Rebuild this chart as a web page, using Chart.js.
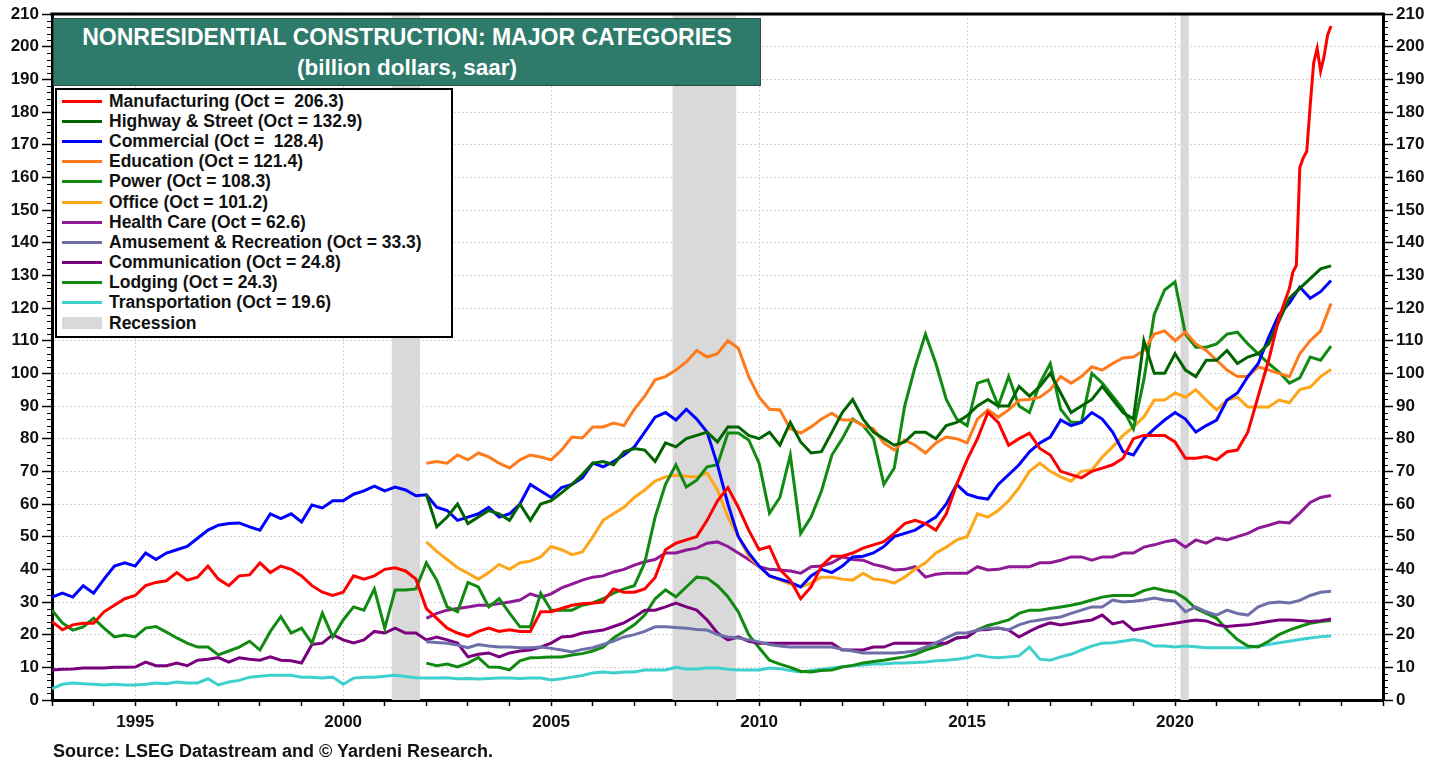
<!DOCTYPE html>
<html><head><meta charset="utf-8">
<script src="https://cdn.jsdelivr.net/npm/chart.js@4.4.1/dist/chart.umd.min.js"></script>
<style>
html,body{margin:0;padding:0;background:#fff;}
#wrap{position:relative;width:1443px;height:763px;overflow:hidden;font-family:"Liberation Sans",Arial,sans-serif;}
#c{position:absolute;left:0;top:0;}
#title{position:absolute;left:53px;top:18px;width:708px;height:68px;background:#2e7a6b;color:#fff;font-weight:bold;text-align:center;box-sizing:border-box;border:1px solid #2a4a44;}
#title .t1{font-size:23px;line-height:23px;margin-top:7px;white-space:nowrap;}
#title .t2{font-size:22.5px;line-height:23px;margin-top:7px;}
#legend{position:absolute;left:55px;top:88px;width:398px;height:250px;background:#fff;border:2px solid #000;box-sizing:border-box;padding-top:1px;}
.row{height:20.2px;display:flex;align-items:center;font-size:17.5px;font-weight:bold;color:#111;white-space:pre;}
.sw{width:40px;height:3px;margin-left:5px;margin-right:7px;flex:none;}
.sw.rec{height:12px;background:#d9d9d9;}
#source{position:absolute;left:53px;top:742px;font-size:18px;line-height:18px;font-weight:bold;color:#111;white-space:nowrap;}
</style></head>
<body><div id="wrap">
<canvas id="c" width="1443" height="763"></canvas>
<div id="title"><div class="t1">NONRESIDENTIAL CONSTRUCTION: MAJOR CATEGORIES</div><div class="t2">(billion dollars, saar)</div></div>
<div id="legend"></div>
<div id="source">Source: LSEG Datastream and © Yardeni Research.</div>
</div>
<script>
// ---------- DATA (quarterly: Jan, Apr, Jul, Oct) ----------
const START_EARLY = 1993;   // series available from Jan 1993
const START_LATE = 2002;    // series available from Jan 2002
const xLabelYears = [1995, 2000, 2005, 2010, 2015, 2020];
const recessions = [[2001.17, 2001.85], [2007.92, 2009.45], [2020.13, 2020.33]];

const manufacturing = [
 24,21.5,23,23.5, 23.5,27,29,31, 32,35,36,36.5, 39,36.7,37.6,41, 37,35,38,38.3,
 42,39,41,40, 38,35,33,32, 33,38,37,38, 40,40.5,39.5,37, 28,25,22,20.5,
 19.5,21,22,21, 21.5,21,21,27, 27,28,29,29.5, 29.7,30,34,33, 33,34,37.5,46,
 48,49,50,55, 61,65,59,52, 46,47,40,36.7, 31,34.6,41,44, 44,45,46.5,47.5,
 48.5,51,54,55, 54,52,57,66, 73.5,80,88,85, 78,80,81.7,77, 75,70,69,68,
 70,71,72,74, 80,81,81,81, 79,74,74,74.5, 73.5,76,76.5,82, 93,104,117,126
];
const mfgTailDates = [2022.833,2022.917,2023.0,2023.083,2023.167,2023.25,2023.333,2023.417,2023.5,2023.583,2023.667,2023.75];
const mfgTail = [131,133,163,166,168,182,195,199.5,192.5,197,203.5,206.3];

const highway = [
 63,53,56,60, 54,56,58,57, 55,60,55,60, 61,63.4,66,69, 72.5,73,72,76,
 77,76.5,73,78.7, 77.5,80,81,82, 79,83.6,83.6,81, 80,82,78,85, 79,75.6,76,82,
 88,92,86,82, 80,78,79,82, 82,80,84,85, 87,90,92,90, 90,96,93,96,
 100,94,88,90, 92,96,92,88, 86,110,100,100, 106,101,99,104, 104,107,103,105,
 106,109,116,123, 126,129,132,132.9
];
const commercial = [
 31.5,32.7,31.5,35, 32.7,37,41,42, 41,45,43,45, 46,47,49.5,52, 53.5,54,54.2,53,
 52,57,55.5,57, 54.5,59.7,58.8,61, 61,63,64,65.5, 64,65.2,64.3,62.5, 62.8,59,58,55,
 56,57,59,56, 57,60,66,64, 62,65,66,68, 72.5,71.4,73,75, 77.5,82,86.6,88,
 85.7,89,86,82, 72,60,50,45, 41,38,37,36, 34.6,38,40,39, 41,43.8,44,45,
 47,50,51,52, 54,56,60,66, 63,62,61.5,66, 69,72,76,78.7, 80.5,85.7,84,85,
 88,86,82,76, 75,80,83,85.7, 88,86,82,84, 85.7,91.8,94,99, 103,111,118,121.5,
 126.4,123,125,128.4
];
const education = [
 72.5,73,72.5,75, 73.5,75.6,74.4,72.5, 71,73.5,75,74.4, 73.5,76.5,80.5,80.2, 83.6,83.6,84.8,84,
 89,93,98,99, 101,103.5,107,105, 106,110,107.7,99, 92.7,89,88.8,83, 81.7,83.6,86,87.8,
 85.7,85.7,84,83, 78.7,76.5,79.6,78, 75.6,78.7,80.5,80, 78.7,86,88.8,86.6, 88.8,91.8,92,92.7,
 95,99,97,99, 102,101,103,104.7, 105,107,112,113, 110,112.6,109,107, 104,101,99,99,
 102,101,100,99, 106,110,113,121.4
];
const power = [
 27.5,23.6,21.4,22.4, 25,22,19.3,19.9, 19.3,22,22.5,20.8, 19,17.4,16.2,16.2, 13.8,15,16.2,18,
 15.3,21,25.5,20.5, 22,17.4,26.6,19.3, 24.5,28.5,27.5,34, 22,33.7,33.7,34, 42,36.7,28.5,27,
 36,34.6,28.5,31, 26.6,22.4,22.4,32.7, 27.5,27.5,27.5,29, 29.7,31,32.7,34, 35,42,56,66,
 72,65.2,67.3,71.4, 72,81.7,81.7,79.6, 72.5,57.2,62,75, 51,56,64,75, 80,86,84,80,
 66,71,90,102, 112,103,92,86, 84,97,98,90, 99,90,88,97, 103,89,85,85,
 100,97,93,89, 83,98,118,125.5, 128,112,108,108, 109,112,112.6,109, 106,103,100.4,97,
 98.6,105,104,108.3
];
const office = [
 48.4,45.5,43,40.5, 38.8,37,39,41.5, 40,42,42.5,43.8, 47,46,44.5,45.3, 49.9,55,57,59,
 62,64.3,67,68.3, 68.8,68.5,68.3,69.5, 64.3,56,50,44, 40.8,38,36.7,35.5, 34.6,35.8,37.6,37.6,
 37,36.7,38.8,37, 36.7,35.8,37.6,40, 42,45,46.8,49, 50,57,56,58, 61,65,70,72.5,
 70,68.3,67,70, 70.4,74.4,77.5,81, 83.6,86.6,91.8,91.8, 94,92.7,95,91.8, 88.8,91.8,92.7,89.7,
 89.7,89.7,91.8,91, 95,95.8,99,101.2
];
const healthCare = [
 25,26.5,27.5,28, 28.5,29,29,29.5, 30,30.6,32.5,31.5, 32.5,34.3,35.5,36.7, 37.6,38,39.2,40,
 41.3,42.3,43,45, 45,45.9,46.5,48, 48.4,47,45,43, 40.8,40,39.8,39.5, 38.8,40.8,41,42,
 43.8,43,42.8,41.5, 40.8,39.8,40,40.8, 37.6,38.5,38.8,38.8, 38.8,40.8,39.8,40, 40.8,40.8,40.8,42,
 42,42.8,43.8,43.8, 42.8,43.8,43.8,45, 45,46.8,47.5,48.4, 49,46.8,49,48, 49.6,49,50,51,
 52.6,53.5,54.5,54.2, 57.2,60.5,62,62.6
];
const amusement = [
 17.8,17.6,17.4,16.8, 16,17,16.5,16.2, 16.2,16,16,16.2, 15.8,15.3,14.7,15.5, 16,17,18,19.3,
 20,21,22.4,22.4, 22.2,22,21.6,21.4, 20,19.3,19,18.4, 17.8,17,16.5,16.2, 16.2,16.2,16.2,16.2,
 15.5,15,14.4,14.4, 14.4,14.4,14.6,15, 16.2,17.5,19,20.5, 20.5,21.4,22,22, 21.5,23,24,24.5,
 25,25.4,26.5,27.5, 28.5,28.5,30.6,30, 30.2,30.6,31.2,30.6, 30.3,27,28.5,27, 26,27.5,26.5,26,
 28.5,29.7,30,29.7, 30.5,32,33,33.3
];
const communication = [
 9.2,9.4,9.5,9.8, 9.8,9.8,10,10, 10.1,11.6,10.5,10.5, 11.3,10.5,12.2,12.5, 13,11.6,12.9,12.5,
 12.2,13.2,12.2,12, 11.3,17,17.4,20, 18.4,17.5,18.4,21, 20.5,22,20.5,20.5, 18.4,19.3,18.4,17.4,
 13.2,14,14.4,13.2, 14.4,15,15.3,16.2, 17.4,19.3,19.5,20.5, 21,21.4,22.5,23.6, 25.4,27.5,27.5,28.5,
 29.7,28.5,27.5,24.5, 20.5,18.4,19.3,18, 17.4,17.4,17.4,17.4, 17.4,17.4,17.4,17.4, 15.3,15.3,15.3,16.2,
 16.2,17.4,17.4,17.4, 17.4,17.4,17.4,19, 19.3,21.4,21.6,22, 21.4,19.3,21,22.5, 23.6,23,23.5,24,
 24.5,26,23.3,24, 21.4,22,22.5,23, 23.5,24,24.5,24.2, 23,22.5,22.8,23, 23.5,24,24.5,24.5,
 24.3,24,24.3,24.8
];
const lodging = [
 11.3,10.5,11,10.1, 11.3,13,10.1,10, 9.2,12,12.9,13, 13.2,13.2,13.8,14.2, 15,16.2,19,21,
 23,26,31,33.7, 31.6,34.6,37.6,37.3, 35,31.6,27,20, 16,12.2,11,10, 8.8,8.6,9,9.2,
 10.1,10.6,11.3,11.8, 12.2,12.7,13.2,14, 15.3,16.3,17.4,19, 19.3,21.5,22.8,23.6, 24.5,26.5,27.5,27.5,
 28,28.5,29,29.7, 30.6,31.5,32,32, 32,33.5,34.3,33.5, 33,31,28,26.5, 25,21.5,18.5,16.5,
 16.2,18,20,21.4, 22.5,23.5,24,24.3
];
const transportation = [
 3.5,4.8,5.2,5, 4.8,4.6,4.8,4.6, 4.6,4.8,5.2,5, 5.5,5.2,5.2,6.5, 4.6,5.5,6,7,
 7.3,7.6,7.6,7.6, 7,7,6.7,7, 4.8,6.7,7,7, 7.3,7.6,7.2,6.8, 6.7,6.7,6.8,6.5,
 6.6,6.4,6.6,6.7, 6.7,6.6,6.7,6.7, 6.1,6.5,7,7.5, 8.3,8.6,8.3,8.6, 8.6,9.2,9.2,9.2,
 10,9.5,9.5,9.8, 9.8,9.4,9.2,9.2, 9.2,9.8,9.6,9, 8.6,9,9.4,9.8, 10.2,10.5,10.7,11,
 11,11.3,11.3,11.5, 11.6,12,12.2,12.5, 12.9,13.8,13.2,12.9, 13.2,13.5,16.2,12.5, 12.2,13.2,14,15.3,
 16.5,17.4,17.5,18, 18.5,18,16.5,16.5, 16.2,16.5,16.3,16, 16,16,16,16, 16.5,17,17.5,18,
 18.5,19,19.4,19.6
];

const seriesInfo = [
 {label:'Manufacturing (Oct =  206.3)', color:'#ff0000', vals:manufacturing, start:START_EARLY},
 {label:'Highway & Street (Oct = 132.9)', color:'#006400', vals:highway, start:START_LATE},
 {label:'Commercial (Oct =  128.4)', color:'#0000ff', vals:commercial, start:START_EARLY},
 {label:'Education (Oct = 121.4)', color:'#ff7a1a', vals:education, start:START_LATE},
 {label:'Power (Oct = 108.3)', color:'#108a10', vals:power, start:START_EARLY},
 {label:'Office (Oct = 101.2)', color:'#ffa51a', vals:office, start:START_LATE},
 {label:'Health Care (Oct = 62.6)', color:'#8e1a96', vals:healthCare, start:START_LATE},
 {label:'Amusement & Recreation (Oct = 33.3)', color:'#6e6ea8', vals:amusement, start:START_LATE},
 {label:'Communication (Oct = 24.8)', color:'#7a007e', vals:communication, start:START_EARLY},
 {label:'Lodging (Oct = 24.3)', color:'#128a12', vals:lodging, start:START_LATE},
 {label:'Transportation (Oct = 19.6)', color:'#3ecfcf', vals:transportation, start:START_EARLY}
];

function toPoints(vals, start){ return vals.map((v,i)=>({x:start + i/4, y:v})); }

const datasets = seriesInfo.map((s, idx) => {
  let pts = toPoints(s.vals, s.start);
  if (idx === 0) pts = pts.concat(mfgTailDates.map((d,i)=>({x:d, y:mfgTail[i]})));
  return {label:s.label, data:pts, borderColor:s.color, backgroundColor:s.color,
          borderWidth:3, pointRadius:0, tension:0, fill:false, yAxisID:'y'};
});

// legend (HTML)
const lg = document.getElementById('legend');
seriesInfo.forEach(s => {
  const r = document.createElement('div'); r.className='row';
  r.innerHTML = '<span class="sw" style="background:'+s.color+'"></span><span></span>';
  r.lastChild.textContent = s.label; lg.appendChild(r);
});
{ const r = document.createElement('div'); r.className='row';
  r.innerHTML = '<span class="sw rec"></span><span>Recession</span>'; lg.appendChild(r); }

const FONT = {family:'"Liberation Sans", Arial, sans-serif', size:17, weight:'bold'};

const decor = {
  id:'decor',
  beforeDatasetsDraw(chart){
    const {ctx, chartArea:a, scales:{x}} = chart;
    ctx.save(); ctx.fillStyle = '#d9d9d9';
    recessions.forEach(([s,e]) => {
      const x1 = x.getPixelForValue(s), x2 = x.getPixelForValue(e);
      ctx.fillRect(x1, a.top, x2 - x1, a.bottom - a.top);
    });
    ctx.restore();
  },
  afterDraw(chart){
    const {ctx, chartArea:a, scales:{y}} = chart;
    ctx.save();
    ctx.strokeStyle = '#000'; ctx.lineWidth = 3;
    ctx.beginPath(); ctx.moveTo(a.left - 1.5, a.top); ctx.lineTo(a.right + 1.5, a.top); ctx.stroke();
    ctx.lineWidth = 1.2;
    for (let v = 0; v <= 210; v += 2) {
      if (v % 10 === 0) continue;
      const py = Math.round(y.getPixelForValue(v)) + 0.5;
      ctx.beginPath(); ctx.moveTo(a.left - 5, py); ctx.lineTo(a.left, py);
      ctx.moveTo(a.right, py); ctx.lineTo(a.right + 5, py); ctx.stroke();
    }
    ctx.restore();
  }
};

new Chart(document.getElementById('c'), {
  type:'line',
  data:{datasets},
  plugins:[decor],
  options:{
    responsive:false, animation:false, devicePixelRatio:1,
    layout:{padding:{top:14, left:0, right:0, bottom:0}},
    plugins:{legend:{display:false}, tooltip:{enabled:false}},
    scales:{
      x:{type:'linear', min:1993, max:2025,
        afterFit(s){ s.height = 63; },
        ticks:{stepSize:1, autoSkip:false, maxRotation:0, minRotation:0, font:FONT, color:'#111', padding:6,
          callback:v => xLabelYears.includes(v) ? String(v) : ''},
        grid:{color:c => (c.tick && xLabelYears.includes(c.tick.value)) ? '#cfcfcf' : 'rgba(0,0,0,0)',
          tickColor:'#000', tickLength:6, lineWidth:1, tickWidth:1.5},
        border:{display:true, color:'#000', width:3, dash:[2,2]}
      },
      y:{position:'left', min:0, max:210,
        afterFit(s){ s.width = 52; },
        ticks:{stepSize:10, font:FONT, color:'#111', padding:3},
        grid:{color:'#d4d4d4', tickColor:'#000', tickLength:10, lineWidth:1, tickWidth:1.5},
        border:{display:true, color:'#000', width:3, dash:[2,2]}
      },
      y2:{position:'right', min:0, max:210,
        afterFit(s){ s.width = 60; },
        ticks:{stepSize:10, font:FONT, color:'#111', padding:3},
        grid:{drawOnChartArea:false, tickColor:'#000', tickLength:10, tickWidth:1.5},
        border:{display:true, color:'#000', width:3}
      }
    }
  }
});
</script>
</body></html>
